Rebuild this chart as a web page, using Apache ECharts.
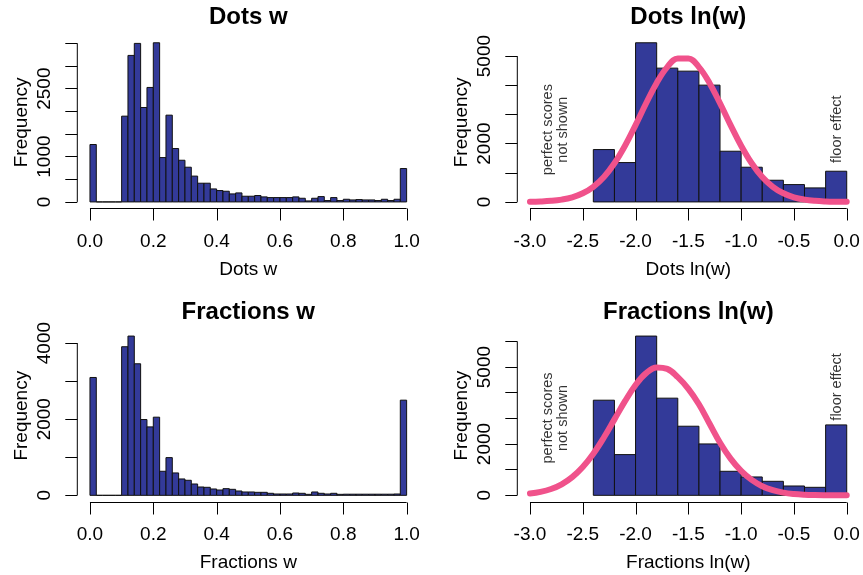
<!DOCTYPE html>
<html><head><meta charset="utf-8">
<script src="https://cdn.jsdelivr.net/npm/echarts@6/dist/echarts.min.js"></script>
<style>html,body{margin:0;padding:0;background:#fff}#c{width:863px;height:575px}</style>
</head><body><div id="c"></div>
<script>
// ---------- DATA ----------
// histogram counts, Dots w (bins of 0.02 from 0 to 1)
const dotsWCounts = [1267, 0, 0, 0, 0, 1893, 3233, 3498, 2084, 2526, 3512, 979, 1915, 1178, 920, 766, 570, 413, 413, 287,
  251, 236, 177, 199, 126, 126, 141, 111, 96, 96, 96, 96, 111, 81, 22, 81, 118, 30, 96, 30,
  59, 44, 52, 44, 44, 30, 59, 30, 59, 737];
// histogram counts, Fractions w
const fracWCounts = [3096, 0, 0, 0, 0, 3904, 4184, 3456, 1991, 1798, 2053, 632, 991, 588, 430, 395, 298, 219, 211, 167,
  140, 175, 158, 114, 88, 88, 79, 79, 53, 35, 35, 35, 61, 53, 26, 88, 53, 35, 53, 26,
  30, 30, 30, 30, 30, 30, 30, 30, 35, 2500];
// histogram counts, ln(w) (bins of 0.2 from -2.4 to 0)
const lnBreaks = [-2.4, -2.2, -2.0, -1.8, -1.6, -1.4, -1.2, -1.0, -0.8, -0.6, -0.4, -0.2, 0.0];
const dotsLnCounts = [1796, 1350, 5458, 4588, 4485, 4005, 1739, 1190, 744, 595, 481, 1053];
const fracLnCounts = [3709, 1588, 6209, 3788, 2694, 2004, 937, 716, 547, 364, 312, 2746];
// fitted curves
const curveX = [-3.0, -2.9, -2.8, -2.7, -2.6, -2.5, -2.4, -2.3, -2.2, -2.1, -2.0, -1.9, -1.8, -1.7, -1.6, -1.5,
  -1.4, -1.3, -1.2, -1.1, -1.0, -0.9, -0.8, -0.7, -0.6, -0.5, -0.4, -0.3, -0.2, -0.1, 0.0];
const dotsCurve = [7, 17, 38, 80, 158, 296, 519, 855, 1325, 1927, 2634, 3383, 4081, 4623, 4921, 4921,
  4623, 4081, 3383, 2634, 1927, 1325, 855, 519, 296, 158, 80, 38, 17, 7, 3];
const fracCurve = [69, 134, 247, 431, 710, 1105, 1623, 2256, 2961, 3671, 4303, 4766, 4987, 4931, 4606, 4150,
  3550, 2800, 2050, 1430, 950, 600, 355, 200, 105, 52, 24, 11, 5, 2, 1];
// tick values / labels
const wTicks = [0, 0.2, 0.4, 0.6, 0.8, 1.0];
const lnTicks = [-3.0, -2.5, -2.0, -1.5, -1.0, -0.5, 0.0];
const dotsWYTicks = [0, 500, 1000, 1500, 2000, 2500, 3000, 3500];
const dotsWYLabels = [0, 1000, 2500];
const dotsLnYTicks = [0, 1000, 2000, 3000, 4000, 5000];
const dotsLnYLabels = [0, 2000, 5000];
const fracWYTicks = [0, 1000, 2000, 3000, 4000];
const fracWYLabels = [0, 2000, 4000];
const fracLnYTicks = [0, 1000, 2000, 3000, 4000, 5000, 6000];
const fracLnYLabels = [0, 2000, 5000];
const titles = ['Dots w', 'Dots ln(w)', 'Fractions w', 'Fractions ln(w)'];
const noteTexts = ['perfect scores\nnot shown', 'floor effect'];

// ---------- BUILD ----------
const wBreaks = [];
for (let i = 0; i <= 50; i++) wBreaks.push(+(i * 0.02).toFixed(2));

const FONT = '"Liberation Sans", Arial, Helvetica, sans-serif';
const BAR = '#333a99';
const PINK = '#f0528b';
const TICK = 12;

const panels = [
  { breaks: wBreaks, counts: dotsWCounts, xr: [0, 1], xTicks: wTicks, yTicks: dotsWYTicks, yLabels: dotsWYLabels,
    title: titles[0], grid: { left: 77.3, top: 36.4, width: 342, height: 171.9 } },
  { breaks: lnBreaks, counts: dotsLnCounts, xr: [-3, 0], xTicks: lnTicks, yTicks: dotsLnYTicks, yLabels: dotsLnYLabels,
    title: titles[1], curve: dotsCurve, notes: [[-2.756, 2480], [-0.096, 2495]],
    grid: { left: 517.3, top: 36.4, width: 342.1, height: 171.9 } },
  { breaks: wBreaks, counts: fracWCounts, xr: [0, 1], xTicks: wTicks, yTicks: fracWYTicks, yLabels: fracWYLabels,
    title: titles[2], grid: { left: 77.3, top: 329.7, width: 342, height: 172 } },
  { breaks: lnBreaks, counts: fracLnCounts, xr: [-3, 0], xTicks: lnTicks, yTicks: fracLnYTicks, yLabels: fracLnYLabels,
    title: titles[3], curve: fracCurve, notes: [[-2.756, 3016], [-0.096, 4226]],
    grid: { left: 517.3, top: 329.7, width: 342.1, height: 172 } }
];

const option = { animation: false, backgroundColor: '#fff', grid: [], xAxis: [], yAxis: [], series: [], graphic: [] };

panels.forEach((p, i) => {
  const ymaxData = Math.max(...p.counts);
  const yMin = -0.04 * ymaxData, yMax = 1.04 * ymaxData;
  const xSpan = p.xr[1] - p.xr[0];
  const xMin = p.xr[0] - 0.04 * xSpan, xMax = p.xr[1] + 0.04 * xSpan;
  const g = p.grid;
  option.grid.push({ left: g.left, top: g.top, width: g.width, height: g.height, containLabel: false });
  option.xAxis.push({
    type: 'value', gridIndex: i, min: xMin, max: xMax, position: 'bottom',
    name: p.title, nameLocation: 'middle', nameGap: 52,
    nameTextStyle: { fontSize: 19, fontFamily: FONT, color: '#000' },
    axisLine: { show: false, onZero: false }, splitLine: { show: false },
    axisTick: { show: false },
    axisLabel: { customValues: p.xTicks, margin: 24, fontSize: 19, fontFamily: FONT, color: '#000',
      formatter: v => (Math.abs(v) < 1e-9 ? 0 : v).toFixed(1) }
  });
  option.yAxis.push({
    type: 'value', gridIndex: i, min: yMin, max: yMax, position: 'left',
    name: 'Frequency', nameLocation: 'middle', nameGap: 46, nameRotate: 90,
    nameTextStyle: { fontSize: 19, fontFamily: FONT, color: '#000' },
    axisLine: { show: false, onZero: false }, splitLine: { show: false },
    axisTick: { show: true, inside: false, length: TICK, customValues: p.yTicks, lineStyle: { color: '#000', width: 1 } },
    axisLabel: { customValues: p.yLabels, rotate: 90, margin: 23, fontSize: 19, fontFamily: FONT, color: '#000',
      formatter: v => String(Math.round(v)) }
  });
  // histogram bars
  const binData = p.counts.map((c, k) => [p.breaks[k], p.breaks[k + 1], c]);
  option.series.push({
    type: 'custom', xAxisIndex: i, yAxisIndex: i, data: binData,
    encode: { x: [0, 1], y: 2 },
    renderItem: (params, api) => {
      const a = api.coord([api.value(0), 0]);
      const b = api.coord([api.value(1), api.value(2)]);
      return { type: 'rect', shape: { x: a[0], y: b[1], width: b[0] - a[0], height: a[1] - b[1] },
        style: { fill: BAR, stroke: '#111', lineWidth: 1 } };
    }
  });
  // x axis line spanning tick range (R style) + ticks
  option.series.push({
    type: 'custom', xAxisIndex: i, yAxisIndex: i, silent: true, clip: false, z: 4,
    data: [[p.xTicks[0], p.xTicks[p.xTicks.length - 1], yMin]],
    encode: { x: [0, 1], y: 2 },
    renderItem: (params, api) => {
      const a = api.coord([api.value(0), api.value(2)]);
      const b = api.coord([api.value(1), api.value(2)]);
      const y = Math.round(a[1]) + 0.5;
      return { type: 'line', shape: { x1: a[0], y1: y, x2: b[0], y2: y }, style: { stroke: '#000', lineWidth: 1 } };
    }
  });
  option.series.push({
    type: 'custom', xAxisIndex: i, yAxisIndex: i, silent: true, clip: false, z: 4,
    data: p.xTicks.map(t => [t, yMin]),
    encode: { x: 0, y: 1 },
    renderItem: (params, api) => {
      const a = api.coord([api.value(0), api.value(1)]);
      const x = Math.round(a[0]) + 0.5, y = Math.round(a[1]) + 0.5;
      return { type: 'line', shape: { x1: x, y1: y, x2: x, y2: y + TICK }, style: { stroke: '#000', lineWidth: 1 } };
    }
  });
  // y axis line spanning tick range
  option.series.push({
    type: 'line', xAxisIndex: i, yAxisIndex: i, silent: true, clip: false, symbol: 'none',
    data: [[xMin, p.yTicks[0]], [xMin, p.yTicks[p.yTicks.length - 1]]],
    lineStyle: { color: '#000', width: 1 }
  });
  if (p.curve) {
    option.series.push({
      type: 'line', xAxisIndex: i, yAxisIndex: i, silent: true, symbol: 'none', smooth: 0.4, z: 5,
      data: curveX.map((x, k) => [x, p.curve[k]]),
      lineStyle: { color: PINK, width: 6, cap: 'round', join: 'round' }
    });
    p.notes.forEach((pt, k) => {
      option.series.push({
        type: 'scatter', xAxisIndex: i, yAxisIndex: i, silent: true, symbolSize: 0, z: 6,
        data: [pt],
        label: { show: true, position: 'inside', rotate: 90, formatter: noteTexts[k], fontSize: 14.5, lineHeight: 15,
          fontFamily: FONT, color: '#000', align: 'center', verticalAlign: 'middle' }
      });
    });
  }
  option.graphic.push({
    type: 'text', x: g.left + g.width / 2, y: i < 2 ? 17 : 312,
    style: { text: p.title, fontSize: 24, fontWeight: 'bold', fontFamily: FONT, fill: '#000',
      align: 'center', verticalAlign: 'middle' }
  });
});

const chart = echarts.init(document.getElementById('c'), null, { renderer: 'canvas' });
chart.setOption(option);
</script></body></html>
